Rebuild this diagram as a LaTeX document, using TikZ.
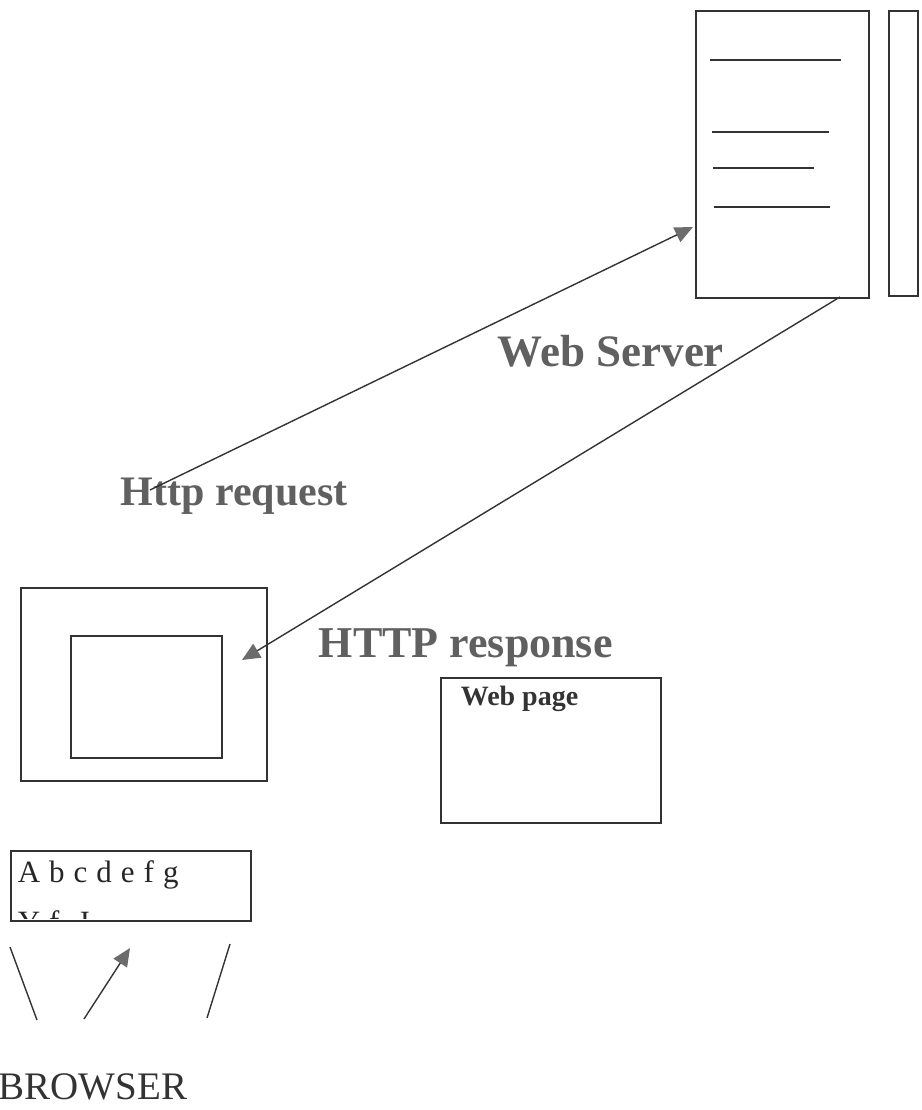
\documentclass[tikz,border=0pt]{standalone}
\usepackage{fontspec}
\setmainfont{Liberation Serif}
\usetikzlibrary{arrows.meta}
\newcommand{\lsp}{\hspace{9pt}}
\begin{document}
\begin{tikzpicture}[x=1pt,y=-1pt,
  line width=1.6pt,
  box/.style={draw=black!80,line width=1.7pt,anchor=north west,inner sep=0pt},
  conn/.style={draw=black!80,line width=1.4pt},
  tip/.style={-{Triangle[length=18pt,width=16pt,fill=gray!85!black,color=gray!85!black]}},
  lbl/.style={text=gray!75!black,font=\bfseries\fontsize{45}{50}\selectfont,inner sep=0pt,anchor=base west},
  srvline/.style={draw=black!80,line width=1.8pt}
]
\useasboundingbox (0,0) rectangle (921,1110);
% web server
\node[box,minimum width=173pt,minimum height=287pt] (server) at (695,10) {};
\node[box,minimum width=29pt,minimum height=285pt] (side) at (888,10) {};
\coordinate (l1a) at (710,60);  \coordinate (l1b) at (841,60);
\coordinate (l2a) at (712,132); \coordinate (l2b) at (829,132);
\coordinate (l3a) at (713,168); \coordinate (l3b) at (814,168);
\coordinate (l4a) at (714,207); \coordinate (l4b) at (830,207);
\draw[srvline] (l1a) -- (l1b);
\draw[srvline] (l2a) -- (l2b);
\draw[srvline] (l3a) -- (l3b);
\draw[srvline] (l4a) -- (l4b);
% labels
\node[lbl] (ws) at (497,366) {Web Server};
\node[lbl,font=\bfseries\fontsize{42}{48}\selectfont] (hr) at (120,505) {Http request};
\node[lbl,font=\bfseries\fontsize{44}{50}\selectfont] (hresp) at (318,657) {HTTP response};
% browser window
\node[box,minimum width=246pt,minimum height=193pt] (win) at (20,587) {};
\node[box,minimum width=151pt,minimum height=122pt] (inner) at (70,635) {};
% web page
\node[box,minimum width=220pt,minimum height=145pt] (page) at (440,677) {};
\node[anchor=base west,inner sep=0pt,font=\bfseries\fontsize{28}{32}\selectfont,text=black!80] (pagelbl) at (460,705) {Web page};
% connectors
\coordinate (reqs) at (150,490);
\coordinate (reqe) at (693,227);
\draw[conn,tip] (reqs) -- (reqe);
\coordinate (resps) at (840,297);
\coordinate (respe) at (242,660);
\draw[conn,tip] (resps) -- (respe);
% text box
\node[box,minimum width=240pt,minimum height=70pt] (tbox) at (10,850) {};
\node[anchor=base west,inner sep=0pt,font=\fontsize{31}{34}\selectfont,text=black!85] (abc) at (17,882) {A\lsp b\lsp c\lsp d\lsp e\lsp f\lsp g};
\begin{scope}
\clip (12,852) rectangle (248,918);
\node[anchor=base west,inner sep=0pt,font=\fontsize{31}{34}\selectfont,text=black!85] (abc2) at (17,932) {Y\lsp f\lsp\lsp J};
\end{scope}
% strokes
\coordinate (s1a) at (10,947);  \coordinate (s1b) at (37,1020);
\coordinate (s2a) at (84,1019); \coordinate (s2b) at (130,948);
\coordinate (s3a) at (230,944); \coordinate (s3b) at (207,1018);
\draw[conn] (s1a) -- (s1b);
\draw[conn,tip] (s2a) -- (s2b);
\draw[conn] (s3a) -- (s3b);
\node[anchor=base west,inner sep=0pt,font=\fontsize{39}{44}\selectfont,text=black!80] (br) at (-2,1099) {BROWSER};
\end{tikzpicture}
\end{document}
